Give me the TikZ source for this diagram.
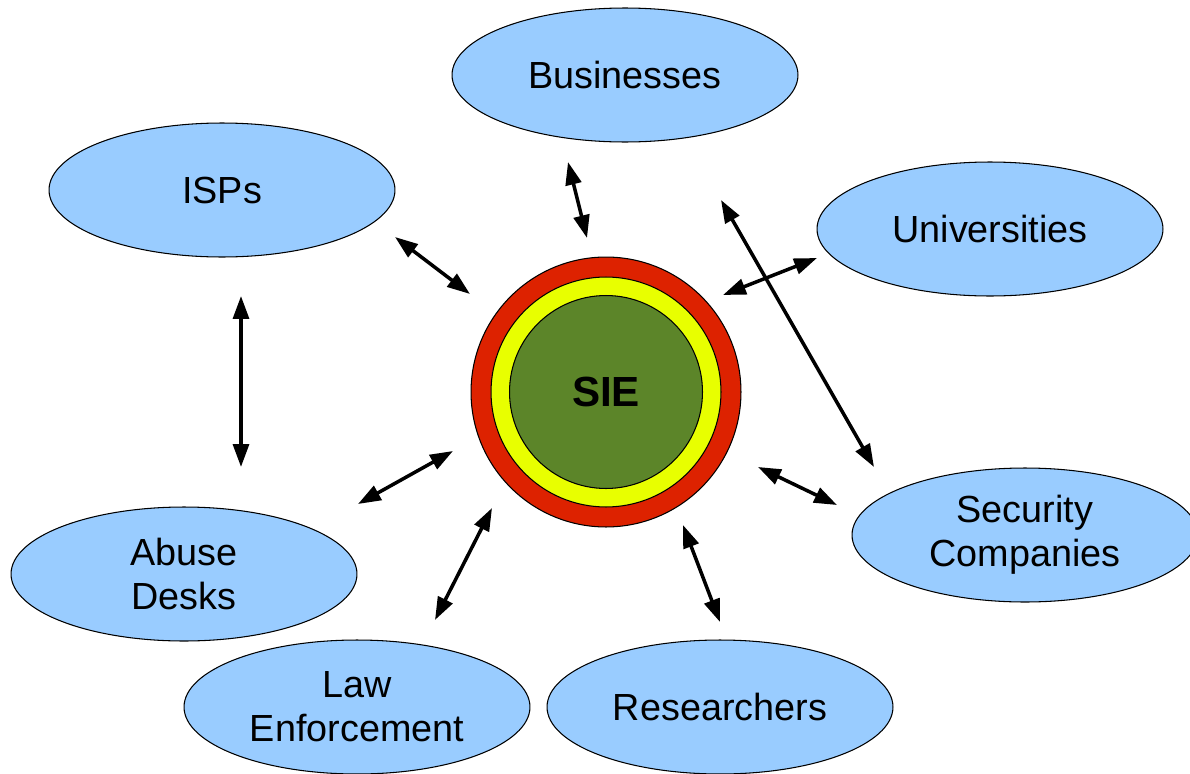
\documentclass[tikz,border=0pt]{standalone}
\usepackage{fontspec}
\setmainfont{Liberation Sans}
\usetikzlibrary{shapes.geometric}
\usetikzlibrary{arrows.meta}

\definecolor{partyblue}{RGB}{153,204,255}
\definecolor{ringred}{RGB}{221,34,0}
\definecolor{ringyellow}{RGB}{232,255,0}
\definecolor{coregreen}{RGB}{92,133,41}

\begin{document}
\begin{tikzpicture}[line join=round,>={Triangle[length=13pt,width=9pt]},x=0.02cm,y=-0.02cm,
  party/.style={ellipse,draw=black,line width=0.6pt,fill=partyblue,minimum width=6.92cm,minimum height=2.68cm,inner sep=0pt,align=center,font=\fontsize{21.5}{25}\selectfont},
  ring/.style={circle,draw=black,line width=0.6pt,inner sep=0pt},
  link/.style={<->,line width=2pt}]
\useasboundingbox (0,0) rectangle (1190,774);
% the parties
\node[party] (busi) at (625,75) {Businesses};
\node[party] (isps) at (222,190) {ISPs};
\node[party] (univ) at (990,229) {Universities};
\node[party] (secu) at (1025,535) {Security\\Companies};
\node[party] (abuse) at (184,574) {Abuse\\Desks};
\node[party] (law) at (357,707) {Law\\Enforcement};
\node[party] (rsrch) at (720,707) {Researchers};
% the exchange in the middle
\node[ring,fill=ringred,minimum size=5.4cm] (sieout) at (606,392) {};
\node[ring,fill=ringyellow,minimum size=4.6cm] (siemid) at (sieout) {};
\node[ring,fill=coregreen,minimum size=3.86cm,font=\fontsize{24}{28}\selectfont\bfseries] (sie) at (sieout) {SIE};
% free arrow ends
\coordinate (bs1) at (568,162); \coordinate (bs2) at (587,238);
\coordinate (bc1) at (721,200); \coordinate (bc2) at (874,467);
\coordinate (us1) at (817,258); \coordinate (us2) at (723,295);
\coordinate (cs1) at (758,467); \coordinate (cs2) at (837,505);
\coordinate (rs1) at (683,525); \coordinate (rs2) at (720,622);
\coordinate (ls1) at (492,508); \coordinate (ls2) at (435,620);
\coordinate (as1) at (453,451); \coordinate (as2) at (358,504);
\coordinate (ia1) at (241,296); \coordinate (ia2) at (241,467);
\coordinate (is1) at (395,237); \coordinate (is2) at (470,294);
\draw[link] (bs1) -- (bs2);
\draw[link] (bc1) -- (bc2);
\draw[link] (us1) -- (us2);
\draw[link] (cs1) -- (cs2);
\draw[link] (rs1) -- (rs2);
\draw[link] (ls1) -- (ls2);
\draw[link] (as1) -- (as2);
\draw[link] (ia1) -- (ia2);
\draw[link] (is1) -- (is2);
\end{tikzpicture}
\end{document}
